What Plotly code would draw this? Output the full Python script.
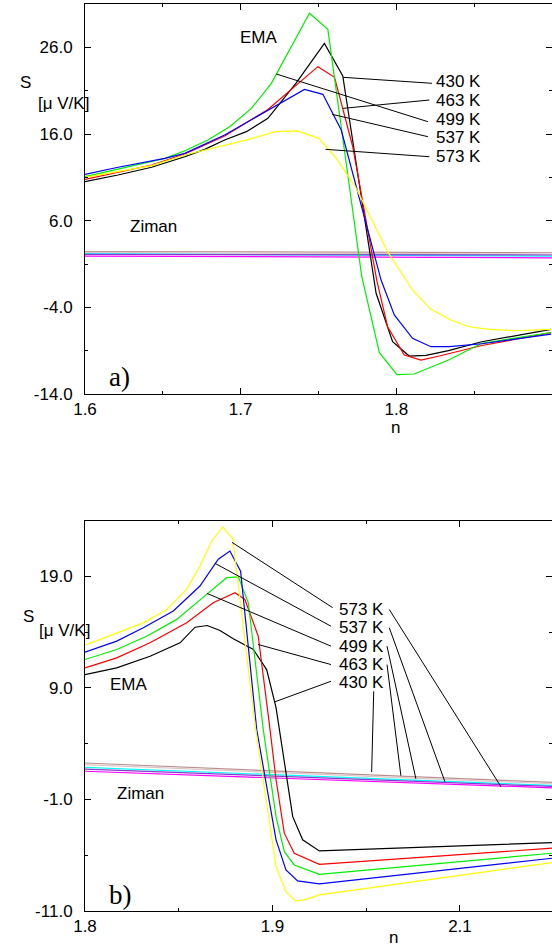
import plotly.graph_objects as go

# ---------------- Panel a) data (n, S in microV/K) ----------------
temps = ["430 K", "463 K", "499 K", "537 K", "573 K"]
ema_colors = ["#000000", "#ff0000", "#00ee00", "#0000ff", "#ffff00"]
ziman_colors = ["#bc8f8f", "#dcc8c8", "#00ffff", "#8a3ccf", "#ff00ff"]

na_430 = [1.6, 1.6212, 1.6428, 1.6641, 1.6769, 1.6897, 1.7037, 1.7175, 1.7357, 1.7538, 1.7656, 1.7870, 1.7976, 1.8083, 1.8190, 1.8335, 1.8549, 1.8994]
Sa_430 = [10.5, 11.27, 12.16, 13.38, 14.23, 15.31, 16.27, 17.81, 21.9, 26.46, 22.69, -2.38, -7.97, -9.62, -9.54, -9.0, -7.97, -6.54]
na_463 = [1.6, 1.6428, 1.6641, 1.6897, 1.7173, 1.7496, 1.7603, 1.7720, 1.7874, 1.7944, 1.8051, 1.8158, 1.8276, 1.8549, 1.8994]
Sa_463 = [10.77, 12.42, 13.69, 15.77, 18.8, 23.77, 22.54, 14.53, -0.85, -6.24, -9.5, -10.08, -9.62, -8.4, -6.93]
na_499 = [1.6, 1.6513, 1.6641, 1.6790, 1.6929, 1.7069, 1.7197, 1.7442, 1.7560, 1.7778, 1.7891, 1.8004, 1.8115, 1.8335, 1.8549, 1.8994]
Sa_499 = [11.07, 13.19, 14.07, 15.31, 16.84, 18.96, 21.85, 29.93, 28.08, -0.47, -9.23, -11.77, -11.69, -10.08, -8.15, -6.9]
na_537 = [1.6, 1.6213, 1.6513, 1.6641, 1.6897, 1.7154, 1.7410, 1.7528, 1.7646, 1.7902, 1.7987, 1.8104, 1.8222, 1.8340, 1.8549, 1.8994]
Sa_537 = [11.35, 12.16, 13.19, 13.77, 15.88, 18.57, 21.15, 20.58, 16.46, -0.85, -4.88, -7.58, -8.54, -8.54, -8.2, -7.1]
na_573 = [1.6, 1.6428, 1.6641, 1.6865, 1.7058, 1.7224, 1.7363, 1.7502, 1.7620, 1.7737, 1.7844, 1.7944, 1.8104, 1.8222, 1.8351, 1.8468, 1.8596, 1.8767, 1.8994]
Sa_573 = [11.0, 12.35, 13.58, 14.53, 15.4, 16.27, 16.35, 15.5, 13.08, 9.92, 6.08, 2.42, -2.0, -4.23, -5.46, -6.24, -6.54, -6.7, -6.54]

na_ziman = [1.6, 1.9]
Sa_ziman = [[2.44, 2.30], [2.33, 2.15], [2.19, 1.92], [2.10, 2.04], [1.92, 1.71]]

# ---------------- Panel b) data ----------------
nb_430 = [1.8, 1.8169, 1.8347, 1.8507, 1.8587, 1.8652, 1.872, 1.8791, 1.8898, 1.8969, 1.9019, 1.9108, 1.9161, 1.925, 2.0491]
Sb_430 = [10.2, 10.8, 11.84, 13.05, 14.45, 14.6, 14.16, 13.41, 12.45, 10.65, 7.24, -2.54, -4.62, -5.61, -4.86]
nb_463 = [1.8, 1.8169, 1.8347, 1.8542, 1.8684, 1.88, 1.8853, 1.8924, 1.8987, 1.9019, 1.9063, 1.9116, 1.925, 2.0491]
Sb_463 = [10.8, 11.7, 13.05, 14.84, 16.64, 17.54, 16.94, 13.64, 5.26, 0.77, -4.02, -5.82, -6.81, -5.37]
nb_499 = [1.8, 1.8169, 1.8329, 1.8489, 1.8649, 1.8756, 1.8818, 1.8871, 1.8951, 1.9019, 1.9063, 1.9116, 1.925, 2.0491]
Sb_499 = [11.55, 12.45, 13.64, 15.15, 17.39, 18.89, 18.97, 16.64, 5.26, -2.54, -5.68, -6.87, -7.71, -5.82]
nb_537 = [1.8, 1.8169, 1.8311, 1.8471, 1.8613, 1.8711, 1.8773, 1.8830, 1.8916, 1.9019, 1.9072, 1.9134, 1.925, 2.0491]
Sb_537 = [12.21, 13.2, 14.4, 15.9, 18.14, 20.54, 21.28, 19.48, 5.26, -4.62, -7.32, -8.3, -8.57, -6.27]
nb_573 = [1.8, 1.8169, 1.8311, 1.8436, 1.8542, 1.8613, 1.8676, 1.8734, 1.8788, 1.8907, 1.9019, 1.9072, 1.9125, 1.9179, 1.925, 2.0491]
Sb_573 = [12.84, 13.94, 14.84, 16.04, 17.84, 19.93, 22.18, 23.44, 22.39, 5.71, -7.02, -9.27, -10.11, -9.96, -9.56, -6.66]

nb_ziman = [1.8, 2.0491]
Sb_ziman = [[2.27, 0.53], [2.12, 0.41], [1.88, 0.26], [1.73, 0.17], [1.53, 0.05]]

# tick labels
xa_ticks = [1.6, 1.7, 1.8]
xa_text = ["1.6", "1.7", "1.8"]
ya_ticks = [-14, -4, 6, 16, 26]
ya_text = ["-14.0", "-4.0", "6.0", "16.0", "26.0"]
xb_ticks = [1.8, 1.9, 2.0]
xb_text = ["1.8", "1.9", "2.1"]
yb_ticks = [-11, -1, 9, 19]
yb_text = ["-11.0", "-1.0", "9.0", "19.0"]

# label leader lines (data coordinates): [n_start, S_start, n_end, S_end]
lead_a = [[1.7658, 22.54, 1.8229, 21.85], [1.7658, 18.96, 1.8212, 19.92], [1.7229, 22.92, 1.8203, 17.42],
          [1.7588, 18.27, 1.8203, 15.69], [1.7545, 14.23, 1.8212, 13.38]]
lab_a = [(1.8239, 22.0), (1.8239, 19.81), (1.8239, 17.73), (1.8239, 15.65), (1.8239, 13.46)]
lead_b_left = [[1.9008, 7.73, 1.9312, 9.6], [1.8923, 12.9, 1.9312, 11.1], [1.8651, 17.48, 1.9312, 12.75],
               [1.8693, 20.18, 1.9312, 14.54], [1.8784, 22.06, 1.9321, 16.2]]
lead_b_right = [[1.954, 8.7, 1.9529, 1.46], [1.9611, 11.1, 1.9685, 1.13], [1.9611, 12.75, 1.9765, 0.86],
                [1.9623, 14.4, 1.992, 0.59], [1.9623, 16.04, 2.0219, 0.14]]
lab_b = [(1.9342, 9.49), (1.9342, 11.15), (1.9342, 12.72), (1.9342, 14.43), (1.9342, 16.04)]

FONT = "Liberation Sans, Arial, Helvetica, sans-serif"
FS = 17

fig = go.Figure()

ema_a = [(na_430, Sa_430), (na_463, Sa_463), (na_499, Sa_499), (na_537, Sa_537), (na_573, Sa_573)]
ema_b = [(nb_430, Sb_430), (nb_463, Sb_463), (nb_499, Sb_499), (nb_537, Sb_537), (nb_573, Sb_573)]

for i in range(5):
    fig.add_trace(go.Scatter(x=na_ziman, y=Sa_ziman[i], mode="lines", xaxis="x", yaxis="y",
                             line=dict(color=ziman_colors[i], width=1.2), hoverinfo="skip"))
    fig.add_trace(go.Scatter(x=nb_ziman, y=Sb_ziman[i], mode="lines", xaxis="x2", yaxis="y2",
                             line=dict(color=ziman_colors[i], width=1.2), hoverinfo="skip"))
for i in range(5):
    fig.add_trace(go.Scatter(x=ema_a[i][0], y=ema_a[i][1], mode="lines", xaxis="x", yaxis="y",
                             line=dict(color=ema_colors[i], width=1.2), name=temps[i]))
    fig.add_trace(go.Scatter(x=ema_b[i][0], y=ema_b[i][1], mode="lines", xaxis="x2", yaxis="y2",
                             line=dict(color=ema_colors[i], width=1.2), name=temps[i]))

# dummy traces for right-side tick axes
fig.add_trace(go.Scatter(x=[None], y=[None], xaxis="x", yaxis="y3", hoverinfo="skip"))
fig.add_trace(go.Scatter(x=[None], y=[None], xaxis="x2", yaxis="y4", hoverinfo="skip"))

xdom = [85 / 552, 1.0]
ya_dom = [1 - 394 / 949, 1 - 4 / 949]
yb_dom = [1 - 911 / 949, 1 - 520.7 / 949]

common = dict(showgrid=False, zeroline=False, linecolor="black", linewidth=1, ticks="inside",
              tickcolor="black", ticklen=6, tickwidth=1, automargin=False,
              tickfont=dict(family=FONT, size=FS, color="black"))

fig.update_layout(
    template="none",
    width=552, height=949, margin=dict(l=0, r=0, t=0, b=0, pad=0), autosize=False,
    paper_bgcolor="white", plot_bgcolor="white", showlegend=False,
    font=dict(family=FONT, size=FS, color="black"),
    xaxis=dict(domain=xdom, anchor="y", range=[1.6, 1.9], tickvals=xa_ticks, ticktext=xa_text,
               showline=True, mirror="ticks", ticklabelstandoff=0,
               minor=dict(tickvals=[1.65, 1.75, 1.85], ticks="inside", ticklen=3, tickcolor="black"),
               **common),
    yaxis=dict(domain=ya_dom, anchor="x", range=[-14, 31], tickvals=ya_ticks, ticktext=ya_text,
               showline=True, ticklabelstandoff=8,
               minor=dict(tickvals=[-9, 1, 11, 21], ticks="inside", ticklen=3, tickcolor="black"),
               **common),
    yaxis3=dict(overlaying="y", side="right", anchor="x", range=[-14, 31], tickvals=ya_ticks,
                showticklabels=False, showline=False,
                minor=dict(tickvals=[-9, 1, 11, 21], ticks="inside", ticklen=3, tickcolor="black"),
                **common),
    xaxis2=dict(domain=xdom, anchor="y2", range=[1.8, 2.0491], tickvals=xb_ticks, ticktext=xb_text,
                showline=True, mirror="ticks", ticklabelstandoff=0,
                minor=dict(tickvals=[1.85, 1.95], ticks="inside", ticklen=3, tickcolor="black"),
                **common),
    yaxis2=dict(domain=yb_dom, anchor="x2", range=[-11, 24], tickvals=yb_ticks, ticktext=yb_text,
                showline=True, ticklabelstandoff=8,
                minor=dict(tickvals=[-6, 4, 14], ticks="inside", ticklen=3, tickcolor="black"),
                **common),
    yaxis4=dict(overlaying="y2", side="right", anchor="x2", range=[-11, 24], tickvals=yb_ticks,
                showticklabels=False, showline=False,
                minor=dict(tickvals=[-6, 4, 14], ticks="inside", ticklen=3, tickcolor="black"),
                **common),
)

shapes = []
for l in lead_a:
    shapes.append(dict(type="line", xref="x", yref="y", x0=l[0], y0=l[1], x1=l[2], y1=l[3],
                       line=dict(color="black", width=1)))
for l in lead_b_left + lead_b_right:
    shapes.append(dict(type="line", xref="x2", yref="y2", x0=l[0], y0=l[1], x1=l[2], y1=l[3],
                       line=dict(color="black", width=1)))
fig.update_layout(shapes=shapes)

ann = []
tf = dict(family=FONT, size=FS, color="black")
for i in range(5):
    ann.append(dict(x=lab_a[i][0], y=lab_a[i][1], xref="x", yref="y", text=temps[i], showarrow=False,
                    xanchor="left", yanchor="middle", font=tf))
    ann.append(dict(x=lab_b[i][0], y=lab_b[i][1], xref="x2", yref="y2", text=temps[i], showarrow=False,
                    xanchor="left", yanchor="middle", font=tf))
ann += [
    dict(x=1.7115, y=27.19, xref="x", yref="y", text="EMA", showarrow=False, font=tf),
    dict(x=1.6442, y=5.27, xref="x", yref="y", text="Ziman", showarrow=False, font=tf),
    dict(x=1.6224, y=-12.04, xref="x", yref="y", text="a)", showarrow=False,
         font=dict(family="Liberation Serif, Times New Roman, serif", size=27, color="black")),
    dict(x=1.8235, y=9.35, xref="x2", yref="y2", text="EMA", showarrow=False, font=tf),
    dict(x=1.8296, y=-0.49, xref="x2", yref="y2", text="Ziman", showarrow=False, font=tf),
    dict(x=1.8187, y=-9.56, xref="x2", yref="y2", text="b)", showarrow=False,
         font=dict(family="Liberation Serif, Times New Roman, serif", size=27, color="black")),
    dict(x=18 / 552, y=1 - 71 / 949, xref="paper", yref="paper", text="S", showarrow=False, font=tf),
    dict(x=36.3 / 552, y=1 - 91.5 / 949, xref="paper", yref="paper", text="[μ V/K]", showarrow=False, font=tf),
    dict(x=21 / 552, y=1 - 616 / 949, xref="paper", yref="paper", text="S", showarrow=False, font=tf),
    dict(x=37 / 552, y=1 - 641.5 / 949, xref="paper", yref="paper", text="[μ V/K]", showarrow=False, font=tf),
    dict(x=402 / 552, y=1 - 427 / 949, xref="paper", yref="paper", text="n", showarrow=False, font=tf),
    dict(x=400.5 / 552, y=0, xref="paper", yref="paper", text="n", showarrow=False,
         yanchor="bottom", font=tf),
]
fig.update_layout(annotations=ann)

fig.write_html("out.html", config={"responsive": False, "displayModeBar": False},
               post_script="document.body.style.margin='0px';document.body.style.overflow='hidden';")
